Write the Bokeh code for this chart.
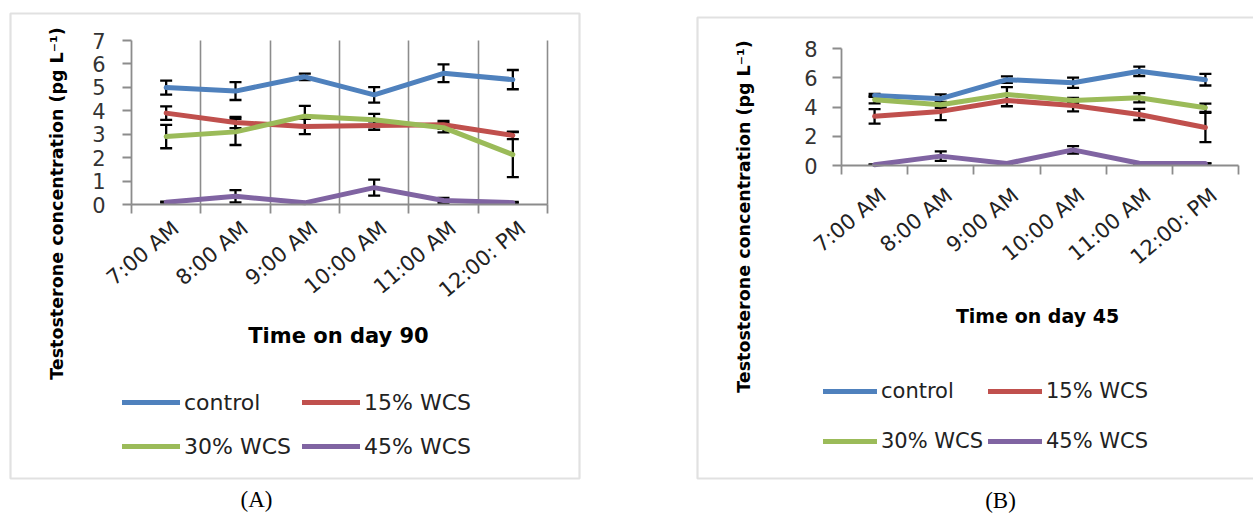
import math
from bokeh.plotting import figure
from bokeh.models import (ColumnDataSource, Range1d, FixedTicker, Whisker, TeeHead,
                          Legend, LegendItem, Label, BoxAnnotation, Grid)
from bokeh.layouts import row
from bokeh.embed import file_html
from bokeh.resources import INLINE

# ---------------- data ----------------
times = ["7:00 AM", "8:00 AM", "9:00 AM", "10:00 AM", "11:00 AM", "12:00: PM"]
series_names = ["control", "15% WCS", "30% WCS", "45% WCS"]

# Panel A : day 90
a_control = [4.99, 4.84, 5.45, 4.68, 5.60, 5.33]
a_control_err = [0.30, 0.38, 0.14, 0.33, 0.38, 0.41]
a_wcs15 = [3.90, 3.50, 3.33, 3.37, 3.40, 2.95]
a_wcs15_err = [0.29, 0.24, 0.33, 0.18, 0.17, 0.16]
a_wcs30 = [2.90, 3.10, 3.77, 3.62, 3.28, 2.13]
a_wcs30_err = [0.50, 0.56, 0.44, 0.25, 0.20, 0.96]
a_wcs45 = [0.10, 0.35, 0.07, 0.72, 0.17, 0.08]
a_wcs45_err = [0.02, 0.26, 0.02, 0.34, 0.11, 0.03]

# Panel B : day 45
b_control = [4.79, 4.57, 5.87, 5.66, 6.44, 5.87]
b_control_err = [0.10, 0.30, 0.22, 0.35, 0.32, 0.40]
b_wcs15 = [3.36, 3.70, 4.45, 4.10, 3.49, 2.60]
b_wcs15_err = [0.50, 0.60, 0.40, 0.40, 0.38, 1.00]
b_wcs30 = [4.50, 4.15, 4.86, 4.45, 4.63, 3.95]
b_wcs30_err = [0.25, 0.20, 0.50, 0.18, 0.32, 0.28]
b_wcs45 = [0.05, 0.64, 0.14, 1.07, 0.15, 0.14]
b_wcs45_err = [0.00, 0.33, 0.00, 0.25, 0.00, 0.00]

colors = ["#4F81BD", "#C0504D", "#9BBB59", "#8064A2"]
AXIS_GRAY = "#8c8c8c"
SANS = "DejaVu Sans"
H = 514  # canvas height of each panel


def make_panel(values, errors, ymax, ystep, cfg):
    W = cfg["W"]
    n = len(times)
    # plot-area rectangle inside the canvas (pixels): left, right, top, bottom
    l, r, t, b = cfg["area"]
    kx = n / (r - l)
    ky = ymax / (b - t)
    x_range = Range1d(-l * kx, n + (W - r) * kx)
    y_range = Range1d(-(H - b) * ky, ymax + t * ky)

    p = figure(output_backend="svg", toolbar_location=None,
               frame_width=W, frame_height=H,
               min_border_left=0, min_border_right=0, min_border_top=0, min_border_bottom=0,
               x_range=x_range, y_range=y_range)
    p.outline_line_color = None
    p.background_fill_color = "white"
    p.border_fill_color = "white"

    # vertical grid lines at category boundaries (panel A only)
    p.ygrid.visible = False
    if cfg["vgrid"]:
        p.xgrid.ticker = FixedTicker(ticks=list(range(1, n + 1)))
        p.xgrid.grid_line_color = AXIS_GRAY
        p.xgrid.grid_line_width = 1.6
        if "cross_bounds" in Grid.properties():
            p.xgrid.cross_bounds = (0, ymax)
        else:
            p.xgrid.visible = False
            bx0 = list(range(1, n + 1))
            p.segment(x0=bx0, y0=[0] * n, x1=bx0, y1=[ymax] * n,
                      line_color=AXIS_GRAY, line_width=1.6)
    else:
        p.xgrid.visible = False

    xs = [i + 0.5 for i in range(n)]
    renderers = []
    for vals, errs, col in zip(values, errors, colors):
        src = ColumnDataSource(dict(x=xs, y=vals,
                                    upper=[v + e for v, e in zip(vals, errs)],
                                    lower=[v - e for v, e in zip(vals, errs)]))
        rr = p.line("x", "y", source=src, line_color=col, line_width=5,
                    line_join="round", line_cap="round")
        renderers.append(rr)
        w = Whisker(source=src, base="x", upper="upper", lower="lower",
                    dimension="height", line_color="black", line_width=2.3,
                    upper_head=TeeHead(size=12, line_color="black", line_width=2.3),
                    lower_head=TeeHead(size=12, line_color="black", line_width=2.3))
        p.add_layout(w)

    # x axis drawn at y = 0 : labels near category centres, tick marks at boundaries
    shift = cfg["lab_shift"]
    label_ticks = [i + 0.5 + shift for i in range(n)]
    xa = p.xaxis[0]
    xa.fixed_location = 0
    xa.bounds = (0, n)
    xa.ticker = FixedTicker(ticks=label_ticks, minor_ticks=list(range(n + 1)))
    xa.major_label_overrides = {tk: lab for tk, lab in zip(label_ticks, times)}
    xa.major_tick_out = 0
    xa.major_tick_in = 0
    xa.minor_tick_out = 9
    xa.minor_tick_in = 0
    xa.minor_tick_line_color = AXIS_GRAY
    xa.minor_tick_line_width = 1.8
    xa.axis_line_color = AXIS_GRAY
    xa.axis_line_width = 1.8
    xa.major_label_orientation = math.radians(40)
    xa.major_label_standoff = cfg["x_standoff"]
    xa.major_label_text_font = SANS
    xa.major_label_text_font_size = "21px"
    xa.major_label_text_color = "#222222"

    ya = p.yaxis[0]
    ya.fixed_location = 0
    ya.bounds = (0, ymax)
    ya.ticker = FixedTicker(ticks=list(range(0, ymax + 1, ystep)), minor_ticks=[])
    ya.major_tick_out = 9
    ya.major_tick_in = 0
    ya.major_tick_line_color = AXIS_GRAY
    ya.major_tick_line_width = 1.8
    ya.minor_tick_out = 0
    ya.minor_tick_in = 0
    ya.axis_line_color = AXIS_GRAY
    ya.axis_line_width = 1.8
    ya.major_label_standoff = cfg["y_standoff"]
    ya.major_label_text_font = SANS
    ya.major_label_text_font_size = "21px"
    ya.major_label_text_color = "#333333"

    # panel border
    bx = cfg["box"]
    p.add_layout(BoxAnnotation(left=bx[0], right=bx[1], top=bx[2], bottom=bx[3],
                               left_units="screen", right_units="screen",
                               top_units="screen", bottom_units="screen",
                               fill_alpha=0, line_color="#9c9c9c", line_width=2.2))

    # axis titles and panel letter
    p.add_layout(Label(x=cfg["ytitle"][0], y=cfg["ytitle"][1], x_units="screen", y_units="screen",
                       text="Testosterone  concentration  (pg L\u207b\u00b9)", angle=math.pi / 2,
                       text_align="center", text_baseline="middle", text_font=SANS,
                       text_font_style="bold", text_font_size="17.5px", text_color="black"))
    p.add_layout(Label(x=cfg["xtitle"][0], y=cfg["xtitle"][1], x_units="screen", y_units="screen",
                       text=cfg["xtitle_text"], text_align="center", text_baseline="middle",
                       text_font=SANS, text_font_style="bold", text_font_size=cfg["xtitle_size"],
                       text_color="black"))
    p.add_layout(Label(x=cfg["panel"][0], y=cfg["panel"][1], x_units="screen", y_units="screen",
                       text=cfg["panel_text"], text_align="center", text_baseline="middle",
                       text_font="Liberation Serif", text_font_size="23px", text_color="black"))

    # legend : two rows of two entries
    for k, ly in enumerate(cfg["leg_y"]):
        items = [LegendItem(label=series_names[2 * k + j], renderers=[renderers[2 * k + j]])
                 for j in range(2)]
        lg = Legend(items=items, orientation="horizontal", location=(cfg["leg_x"], ly),
                    glyph_width=cfg["gw"], glyph_height=26, label_height=26,
                    label_width=cfg["lw"], label_standoff=4, spacing=cfg["sp"],
                    padding=0, margin=0, border_line_color=None, background_fill_alpha=0,
                    label_text_font=SANS, label_text_font_size=cfg["leg_size"],
                    label_text_color="#222222")
        p.add_layout(lg)
    return p


cfgA = dict(W=690, area=(131, 547, 40, 204), vgrid=True,
            lab_shift=0.14, x_standoff=12, y_standoff=17,
            box=(10, 579, 501, 36), ytitle=(56, 317), xtitle=(338, 179),
            xtitle_text="Time on day 90", xtitle_size="21px",
            panel=(256, 15), panel_text="(A)",
            leg_x=122, leg_y=(99, 55), gw=58, lw=113, sp=5, leg_size="22px")
cfgB = dict(W=563, area=(151, 548, 48, 165), vgrid=False,
            lab_shift=0.13, x_standoff=18, y_standoff=15,
            box=(7, 610, 497, 36), ytitle=(53, 304), xtitle=(347, 199),
            xtitle_text="Time on day 45", xtitle_size="19px",
            panel=(310, 14), panel_text="(B)",
            leg_x=133, leg_y=(110, 60), gw=54, lw=103, sp=4, leg_size="21px")

pA = make_panel([a_control, a_wcs15, a_wcs30, a_wcs45],
                [a_control_err, a_wcs15_err, a_wcs30_err, a_wcs45_err], 7, 1, cfgA)
pB = make_panel([b_control, b_wcs15, b_wcs30, b_wcs45],
                [b_control_err, b_wcs15_err, b_wcs30_err, b_wcs45_err], 8, 2, cfgB)

layout = row(pA, pB)
open("out.html", "w").write(file_html(layout, INLINE))
